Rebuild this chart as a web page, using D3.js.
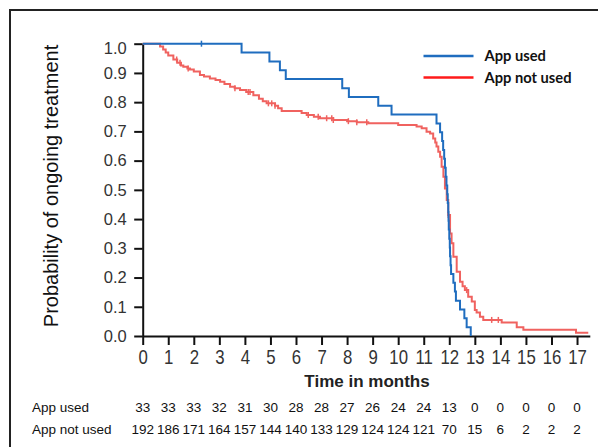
<!DOCTYPE html>
<html>
<head>
<meta charset="utf-8">
<script src="https://cdn.jsdelivr.net/npm/d3@7"></script>
<style>
  body { margin: 0; background: #fff; }
  svg { display: block; font-family: "Liberation Sans", Arial, sans-serif; }
</style>
</head>
<body>
<svg id="chart" width="598" height="447"></svg>
<script>
// Kaplan-Meier steps: [months, probability]
const appUsed = [
  [0, 1.0], [3.87, 0.970], [4.96, 0.939], [5.37, 0.909], [5.6, 0.879],
  [7.81, 0.848], [8.07, 0.818], [9.22, 0.788], [9.74, 0.758], [11.5, 0.727],
  [11.64, 0.697], [11.72, 0.667], [11.76, 0.636], [11.8, 0.606], [11.83, 0.576],
  [11.86, 0.545], [11.89, 0.515], [11.92, 0.485], [11.94, 0.455], [11.96, 0.424],
  [11.97, 0.394], [11.98, 0.364], [12.0, 0.333], [12.02, 0.303], [12.03, 0.273],
  [12.05, 0.242], [12.07, 0.212], [12.16, 0.182], [12.22, 0.152], [12.26, 0.121],
  [12.42, 0.091], [12.59, 0.061], [12.68, 0.030], [12.84, 0.0]
];
const appNotUsed = [
  [0, 1.0], [0.68, 0.99], [0.8, 0.98], [0.9, 0.97], [1.0, 0.96], [1.2, 0.946],
  [1.35, 0.935], [1.5, 0.925], [1.59, 0.921], [1.75, 0.915], [1.85, 0.912],
  [2.0, 0.905], [2.24, 0.893], [2.4, 0.888], [2.63, 0.881], [2.85, 0.876],
  [3.03, 0.870], [3.2, 0.862], [3.42, 0.853], [3.6, 0.848], [3.81, 0.842],
  [4.05, 0.835], [4.33, 0.824], [4.55, 0.812], [4.7, 0.803], [4.85, 0.796],
  [5.18, 0.788], [5.3, 0.779], [5.44, 0.770], [6.22, 0.763], [6.42, 0.756],
  [6.7, 0.750], [6.94, 0.745], [7.46, 0.739], [8.0, 0.735], [8.38, 0.731],
  [8.83, 0.728], [10.0, 0.722], [10.72, 0.717], [10.92, 0.711], [11.11, 0.699],
  [11.25, 0.693], [11.37, 0.676], [11.45, 0.662], [11.5, 0.648], [11.57, 0.63],
  [11.64, 0.613], [11.7, 0.579], [11.77, 0.545], [11.83, 0.505], [11.9, 0.465],
  [11.96, 0.414], [12.03, 0.351], [12.09, 0.317], [12.16, 0.271], [12.29, 0.220],
  [12.42, 0.186], [12.52, 0.170], [12.61, 0.157], [12.74, 0.134], [12.88, 0.118],
  [13.0, 0.089], [13.07, 0.080], [13.2, 0.066], [13.33, 0.055], [14.05, 0.046],
  [14.64, 0.030], [14.9, 0.021], [16.96, 0.011], [17.44, 0.011]
];
const censorUsed = [2.3];
const censorNotUsed = [1.33, 1.46, 1.78, 3.61, 4.13, 4.2, 4.92, 5.05, 5.18, 6.48, 6.87,
  7.2, 7.4, 7.46, 8.05, 8.38, 8.77, 11.96, 12.68, 13.66, 13.92];

const monthTicks = d3.range(0, 18);
const probTicks = [0, 0.1, 0.2, 0.3, 0.4, 0.5, 0.6, 0.7, 0.8, 0.9, 1.0];
const atRiskUsed = [33, 33, 33, 32, 31, 30, 28, 28, 27, 26, 24, 24, 13, 0, 0, 0, 0, 0];
const atRiskNotUsed = [192, 186, 171, 164, 157, 144, 140, 133, 129, 124, 124, 121, 70, 15, 6, 2, 2, 2];

const blue = '#1f6dbf';
const red = '#f0625f';

const svg = d3.select('#chart');

// outer frame (runs off the right and bottom of the picture)
svg.append('rect')
  .attr('x', 10).attr('y', 10)
  .attr('width', 620).attr('height', 470)
  .attr('fill', 'none').attr('stroke', '#222').attr('stroke-width', 2);

const x = d3.scaleLinear().domain([0, 17.5]).range([142.7, 589.8]);
const y = d3.scaleLinear().domain([0, 1]).range([336, 43.7]);

// y axis
const yAxis = svg.append('g')
  .attr('transform', `translate(${x(0)},0)`)
  .call(d3.axisLeft(y).tickValues(probTicks).tickFormat(d3.format('.1f'))
    .tickSize(8.5).tickSizeOuter(0).tickPadding(7.5));
yAxis.selectAll('text').attr('font-size', 16.5).attr('fill', '#333')
  .attr('font-family', '"Liberation Sans", Arial, sans-serif')
  .attr('dy', d => d === 1 ? '0.62em' : '0.32em');

// x axis
const xAxis = svg.append('g')
  .attr('transform', `translate(0,${y(0)})`)
  .call(d3.axisBottom(x).tickValues(monthTicks).tickFormat(d3.format('d'))
    .tickSize(9).tickSizeOuter(0).tickPadding(5));
xAxis.selectAll('text').attr('font-size', 20).attr('fill', '#333')
  .attr('font-family', '"Liberation Sans", Arial, sans-serif')
  .attr('transform', 'scale(0.84,1)');

svg.selectAll('.domain, .tick line').attr('stroke', '#111').attr('stroke-width', 2);

// survival curves
const line = d3.line()
  .x(d => x(d[0]))
  .y(d => y(d[1]))
  .curve(d3.curveStepAfter);

function survivalAt(data, t) {
  const i = d3.bisector(d => d[0]).right(data, t) - 1;
  return data[Math.max(0, i)][1];
}

function drawCurve(data, censors, color) {
  svg.append('path')
    .datum(data)
    .attr('fill', 'none')
    .attr('stroke', color)
    .attr('stroke-width', 2)
    .attr('d', line);
  svg.selectAll(null)
    .data(censors)
    .enter()
    .append('line')
    .attr('x1', d => x(d)).attr('x2', d => x(d))
    .attr('y1', d => y(survivalAt(data, d)) - 3)
    .attr('y2', d => y(survivalAt(data, d)) + 3)
    .attr('stroke', color)
    .attr('stroke-width', 1.5);
}

drawCurve(appNotUsed, censorNotUsed, red);
drawCurve(appUsed, censorUsed, blue);

// axis titles
svg.append('text')
  .attr('transform', 'translate(57.5,186) rotate(-90)')
  .attr('text-anchor', 'middle')
  .attr('font-size', 20)
  .attr('fill', '#111')
  .text('Probability of ongoing treatment');

svg.append('text')
  .attr('x', 367).attr('y', 387)
  .attr('text-anchor', 'middle')
  .attr('font-size', 17)
  .attr('font-weight', 'bold')
  .attr('fill', '#222')
  .text('Time in months');

// legend
const legend = [
  { label: 'App used', color: blue, yPos: 56 },
  { label: 'App not used', color: '#ff1a1a', yPos: 77.5 }
];
const lg = svg.append('g');
lg.selectAll('line').data(legend).enter().append('line')
  .attr('x1', 423.5).attr('x2', 473.5)
  .attr('y1', d => d.yPos).attr('y2', d => d.yPos)
  .attr('stroke', d => d.color).attr('stroke-width', 2.5);
lg.selectAll('text').data(legend).enter().append('text')
  .attr('x', 484.5).attr('y', d => d.yPos + 5)
  .attr('font-family', 'Lato, "Open Sans", sans-serif')
  .attr('font-weight', 'bold')
  .attr('font-size', 14.7)
  .attr('fill', '#111')
  .text(d => d.label);

// numbers at risk
const rows = [
  { label: 'App used', values: atRiskUsed, yPos: 411.5 },
  { label: 'App not used', values: atRiskNotUsed, yPos: 434 }
];
rows.forEach(r => {
  svg.append('text')
    .attr('x', 32).attr('y', r.yPos)
    .attr('font-size', 13.5)
    .attr('fill', '#111')
    .text(r.label);
  svg.selectAll(null)
    .data(r.values)
    .enter()
    .append('text')
    .attr('x', (d, i) => x(monthTicks[i]))
    .attr('y', r.yPos)
    .attr('text-anchor', 'middle')
    .attr('font-size', 13.5)
    .attr('fill', '#111')
    .text(d => d);
});
</script>
</body>
</html>
